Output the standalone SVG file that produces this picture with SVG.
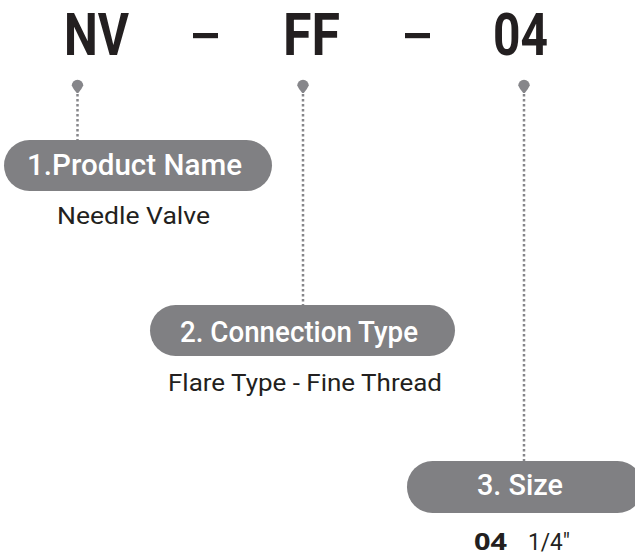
<svg xmlns="http://www.w3.org/2000/svg" width="635" height="556" viewBox="0 0 635 556">
  <defs>
    <style>
      .title { font-family: Roboto, "Liberation Sans", sans-serif; font-weight: 700; font-size: 59px; fill: #231f20; }
      .pill { fill: #808083; }
      .pilltext { font-family: Roboto, "Liberation Sans", sans-serif; font-weight: 500; font-size: 29px; fill: #ffffff; text-anchor: middle; }
      .desc { font-family: Roboto, "Liberation Sans", sans-serif; font-weight: 400; font-size: 23.5px; fill: #231f20; }
      .bold { font-family: "Open Sans", "Noto Sans", sans-serif; font-weight: 700; font-size: 24px; fill: #231f20; }
      .conn { stroke: #86868a; stroke-width: 2.5; stroke-dasharray: 2.5 2.5; fill: none; }
      .pin { fill: #86868a; }
    </style>
    <path id="pinshape" d="M -5.8 0 A 5.8 5.8 0 1 1 5.8 0 Q 4 4 0.8 7.5 L -0.8 7.5 Q -4 4 -5.8 0 Z"/>
  </defs>

  <g id="title">
    <text class="title" x="64" y="55" textLength="65" lengthAdjust="spacingAndGlyphs">NV</text>
    <rect x="193" y="33" width="25" height="5.2" fill="#231f20"/>
    <text class="title" x="283" y="55" textLength="57" lengthAdjust="spacingAndGlyphs">FF</text>
    <rect x="405" y="33" width="25" height="5.2" fill="#231f20"/>
    <text class="title" x="493" y="55" textLength="55" lengthAdjust="spacingAndGlyphs">04</text>
  </g>

  <g id="connectors">
    <line class="conn" x1="77.5" y1="94" x2="77.5" y2="140"/>
    <line class="conn" x1="303" y1="94" x2="303" y2="305"/>
    <line class="conn" x1="524" y1="94" x2="524" y2="461"/>
    <use href="#pinshape" class="pin" x="77.5" y="85.5"/>
    <use href="#pinshape" class="pin" x="303" y="85.5"/>
    <use href="#pinshape" class="pin" x="524" y="85.5"/>
  </g>

  <g id="node-product-name">
    <rect class="pill" x="4" y="140" width="268" height="51" rx="25.5"/>
    <text class="pilltext" x="134.5" y="175" textLength="215" lengthAdjust="spacingAndGlyphs">1.Product Name</text>
    <text class="desc" x="57" y="224" textLength="153" lengthAdjust="spacingAndGlyphs">Needle Valve</text>
  </g>

  <g id="node-connection-type">
    <rect class="pill" x="150" y="305" width="305" height="51" rx="25.5"/>
    <text class="pilltext" x="299" y="342" textLength="238" lengthAdjust="spacingAndGlyphs">2. Connection Type</text>
    <text class="desc" x="168" y="391" textLength="274" lengthAdjust="spacingAndGlyphs">Flare Type - Fine Thread</text>
  </g>

  <g id="node-size">
    <rect class="pill" x="407" y="461" width="236" height="52" rx="25.5"/>
    <text class="pilltext" x="520" y="495" textLength="86" lengthAdjust="spacingAndGlyphs">3. Size</text>
    <text class="bold" x="474" y="550" textLength="33" lengthAdjust="spacingAndGlyphs">04</text>
    <text class="desc" x="528" y="550" textLength="42" lengthAdjust="spacingAndGlyphs">1/4"</text>
  </g>
</svg>
